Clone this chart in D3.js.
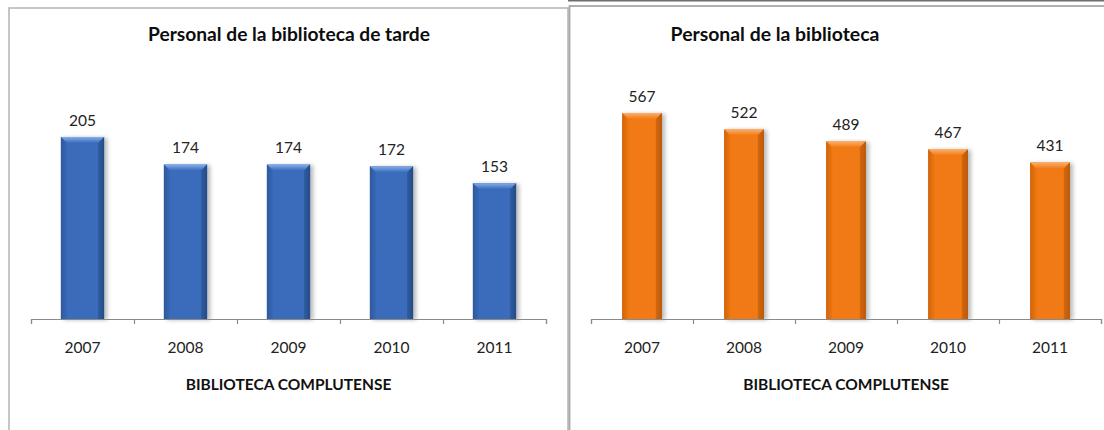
<!DOCTYPE html>
<html>
<head>
<meta charset="utf-8">
<script src="https://cdn.jsdelivr.net/npm/d3@7"></script>
<style>
  html, body { margin: 0; padding: 0; background: #fff; }
  svg { display: block; }
  text { font-family: Lato, "Open Sans", sans-serif; }
</style>
</head>
<body>
<svg id="chart" width="1104" height="430"></svg>
<script>
// Years shown on both category axes
const years = ["2007", "2008", "2009", "2010", "2011"];
// Afternoon library staff
const tardeValues = [205, 174, 174, 172, 153];
// Total library staff
const totalValues = [567, 522, 489, 467, 431];
// Value-axis maxima (axis itself is hidden)
const tardeMax = 250;
const totalMax = 600;
const titles = ["Personal de la biblioteca de tarde", "Personal de la biblioteca"];
const axisTitle = "BIBLIOTECA COMPLUTENSE";

const svg = d3.select("#chart");
const defs = svg.append("defs");

// soft drop shadow behind the bars
const shadow = defs.append("filter").attr("id", "barShadow")
  .attr("x", "-20%").attr("y", "-10%").attr("width", "150%").attr("height", "130%");
shadow.append("feGaussianBlur").attr("in", "SourceAlpha").attr("stdDeviation", 2.2).attr("result", "b");
shadow.append("feOffset").attr("dx", 3).attr("dy", 1).attr("result", "o");
shadow.append("feComponentTransfer").append("feFuncA").attr("type", "linear").attr("slope", 0.28);
const merge = shadow.append("feMerge");
merge.append("feMergeNode");
merge.append("feMergeNode").attr("in", "SourceGraphic");

function makeGradients(id, pal) {
  const body = defs.append("linearGradient").attr("id", id + "Body")
    .attr("x1", 0).attr("x2", 1).attr("y1", 0).attr("y2", 0);
  [[0, pal.edge], [0.12, pal.base], [0.5, pal.base], [0.88, pal.base], [1, pal.edge]]
    .forEach(([o, c]) => body.append("stop").attr("offset", o).attr("stop-color", c));
  const top = defs.append("linearGradient").attr("id", id + "Top")
    .attr("x1", 0).attr("x2", 0).attr("y1", 0).attr("y2", 1);
  top.append("stop").attr("offset", 0).attr("stop-color", pal.light);
  top.append("stop").attr("offset", 1).attr("stop-color", pal.base);
}

const palettes = {
  blue:   { base: "#3a6cbc", edge: "#284e8c", side: "#3462ab", light: "#86aeea", dark: "#254a84" },
  orange: { base: "#f27a12", edge: "#c25c08", side: "#dd6b0c", light: "#fbb070", dark: "#b35406" }
};
makeGradients("blue", palettes.blue);
makeGradients("orange", palettes.orange);

// panel frames
svg.append("rect").attr("x", 9).attr("y", 8).attr("width", 559).attr("height", 440)
  .attr("fill", "none").attr("stroke", "#b8b8b8").attr("stroke-width", 1.6);
svg.append("line").attr("x1", 568).attr("x2", 1104).attr("y1", 0.7).attr("y2", 0.7)
  .attr("stroke", "#6e6e6e").attr("stroke-width", 1.6);
svg.append("rect").attr("x", 569.5).attr("y", 6).attr("width", 560).attr("height", 440)
  .attr("fill", "none").attr("stroke", "#a8a8a8").attr("stroke-width", 1.8);

function drawPanel(cfg) {
  const g = svg.append("g");
  const x = d3.scaleBand().domain(years).range([cfg.x0, cfg.x1])
    .paddingInner(cfg.pad).paddingOuter(cfg.pad / 2);
  const y = d3.scaleLinear().domain([0, cfg.max]).range([cfg.base, cfg.top]);
  const pal = palettes[cfg.color];
  const bev = 6;

  const data = years.map((k, i) => ({ k, v: cfg.values[i] }));

  const bars = g.selectAll("g.bar").data(data).join("g").attr("class", "bar")
    .attr("filter", "url(#barShadow)");
  bars.append("rect")
    .attr("x", d => x(d.k)).attr("y", d => y(d.v))
    .attr("width", x.bandwidth()).attr("height", d => y(0) - y(d.v))
    .attr("fill", `url(#${cfg.color}Body)`);
  // bevelled top face
  bars.append("path")
    .attr("d", d => {
      const x0 = x(d.k), x1 = x0 + x.bandwidth(), t = y(d.v);
      return `M${x0},${t}L${x1},${t}L${x1 - bev},${t + bev}L${x0 + bev},${t + bev}Z`;
    })
    .attr("fill", `url(#${cfg.color}Top)`);
  // bevelled side faces
  bars.append("path")
    .attr("d", d => {
      const x0 = x(d.k), t = y(d.v), b = y(0);
      return `M${x0},${t}L${x0 + bev},${t + bev}L${x0 + bev},${b}L${x0},${b}Z`;
    })
    .attr("fill", pal.side).attr("opacity", 0.5);
  bars.append("path")
    .attr("d", d => {
      const x1 = x(d.k) + x.bandwidth(), t = y(d.v), b = y(0);
      return `M${x1},${t}L${x1 - bev},${t + bev}L${x1 - bev},${b}L${x1},${b}Z`;
    })
    .attr("fill", pal.dark).attr("opacity", 0.55);

  // value labels
  g.selectAll("text.val").data(data).join("text").attr("class", "val")
    .attr("x", d => x(d.k) + x.bandwidth() / 2)
    .attr("y", d => y(d.v) - 11)
    .attr("text-anchor", "middle")
    .attr("font-size", 15.5).attr("fill", "#222")
    .text(d => d.v);

  // category axis: boundary ticks
  const edges = d3.scaleLinear().domain([0, years.length]).range([cfg.x0, cfg.x1]);
  const tickAxis = g.append("g").attr("transform", `translate(0,${cfg.base})`)
    .call(d3.axisBottom(edges).ticks(years.length).tickSize(5).tickSizeOuter(5).tickFormat(""));
  tickAxis.selectAll("path, line").attr("stroke", "#8a8a8a").attr("stroke-width", 1.2);

  // category labels
  const labelAxis = g.append("g").attr("transform", `translate(0,${cfg.base})`)
    .call(d3.axisBottom(x).tickSize(0).tickPadding(23));
  labelAxis.select(".domain").remove();
  labelAxis.selectAll("text").attr("font-family", "Lato, sans-serif")
    .attr("font-size", 15.5).attr("fill", "#222");

  // axis title
  g.append("text").attr("x", (cfg.x0 + cfg.x1) / 2).attr("y", cfg.base + 71)
    .attr("text-anchor", "middle").attr("font-size", 15.5).attr("font-weight", "bold")
    .attr("fill", "#111").text(axisTitle);

  // chart title
  g.append("text").attr("x", cfg.titleX).attr("y", 41)
    .attr("text-anchor", "middle").attr("font-size", cfg.titleSize).attr("font-weight", "bold")
    .attr("fill", "#0d0d0d").text(cfg.title);
}

drawPanel({ values: tardeValues, max: tardeMax, color: "blue", title: titles[0],
  x0: 31, x1: 546, base: 319, top: 97, pad: 0.58, titleX: 289, titleSize: 19.2 });
drawPanel({ values: totalValues, max: totalMax, color: "orange", title: titles[1],
  x0: 591, x1: 1101, base: 319, top: 101, pad: 0.61, titleX: 775, titleSize: 19.4 });
</script>
</body>
</html>
